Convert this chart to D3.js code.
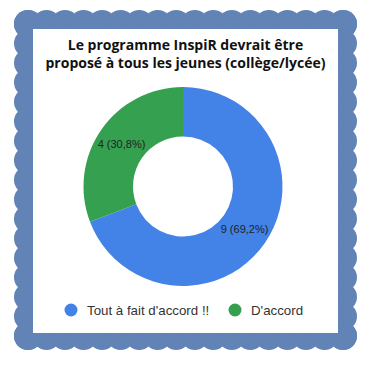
<!DOCTYPE html>
<html>
<head>
<meta charset="utf-8">
<script src="https://cdn.jsdelivr.net/npm/d3@7"></script>
<style>
  body { margin: 0; background: #fff; }
  svg { display: block; }
</style>
</head>
<body>
<div id="canvas"></div>
<script>
const titleLines = ['Le programme InspiR devrait être', 'proposé à tous les jeunes (collège/lycée)'];
const categories = ['Tout à fait d\'accord !!', 'D\'accord'];
const counts = [9, 4];
const colors = ['#4382e6', '#34a050'];

const width = 375;
const height = 366;
const frameColor = '#6183b5';

const svg = d3.select('#canvas').append('svg')
    .attr('width', width)
    .attr('height', height);

// scalloped frame
const frame = { left: 28, top: 24, right: 343, bottom: 336, r: 14 };
const frameG = svg.append('g').attr('fill', frameColor);
frameG.append('rect')
    .attr('x', frame.left)
    .attr('y', frame.top)
    .attr('width', frame.right - frame.left)
    .attr('height', frame.bottom - frame.top);

const nx = 17, ny = 16;
const bumps = [];
d3.range(nx + 1).forEach(i => {
    const x = frame.left + i * (frame.right - frame.left) / nx;
    bumps.push([x, frame.top], [x, frame.bottom]);
});
d3.range(ny + 1).forEach(i => {
    const y = frame.top + i * (frame.bottom - frame.top) / ny;
    bumps.push([frame.left, y], [frame.right, y]);
});
frameG.selectAll('circle')
    .data(bumps)
    .join('circle')
    .attr('cx', d => d[0])
    .attr('cy', d => d[1])
    .attr('r', frame.r);

svg.append('rect')
    .attr('x', 33)
    .attr('y', 29)
    .attr('width', 305)
    .attr('height', 304)
    .attr('fill', '#fff');

// title
svg.append('text')
    .attr('x', 185.5)
    .attr('y', 50)
    .attr('text-anchor', 'middle')
    .style('font-family', '"Open Sans", sans-serif')
    .style('font-weight', 'bold')
    .style('font-size', '14px')
    .attr('fill', '#111')
    .selectAll('tspan')
    .data(titleLines)
    .join('tspan')
    .attr('x', 185.5)
    .attr('dy', (d, i) => i === 0 ? 0 : 18)
    .text(d => d);

// donut
const cx = 183, cy = 186.5;
const outerR = 99.5, innerR = 50;
const total = d3.sum(counts);

const pie = d3.pie().sort(null).value(d => d);
const arc = d3.arc().innerRadius(innerR).outerRadius(outerR);
const arcs = pie(counts);

const chart = svg.append('g').attr('transform', `translate(${cx},${cy})`);
chart.selectAll('path')
    .data(arcs)
    .join('path')
    .attr('d', arc)
    .attr('fill', (d, i) => colors[i]);

const fmt = v => (v * 100).toFixed(1).replace('.', ',') + '%';
chart.selectAll('text')
    .data(arcs)
    .join('text')
    .attr('transform', d => `translate(${arc.centroid(d)})`)
    .attr('text-anchor', 'middle')
    .attr('dy', '0.35em')
    .style('font-family', '"Liberation Sans", Arial, sans-serif')
    .style('font-size', '11px')
    .attr('fill', '#222')
    .text(d => `${d.data} (${fmt(d.data / total)})`);

// legend
const legendY = 310;
const legendX = [71, 235];
const legend = svg.append('g')
    .selectAll('g')
    .data(categories)
    .join('g')
    .attr('transform', (d, i) => `translate(${legendX[i]},${legendY})`);
legend.append('circle')
    .attr('r', 6.5)
    .attr('fill', (d, i) => colors[i]);
legend.append('text')
    .attr('x', 16)
    .attr('dy', '0.35em')
    .style('font-family', '"Liberation Sans", Arial, sans-serif')
    .style('font-size', '13.3px')
    .attr('fill', '#333')
    .text(d => d);
</script>
</body>
</html>
